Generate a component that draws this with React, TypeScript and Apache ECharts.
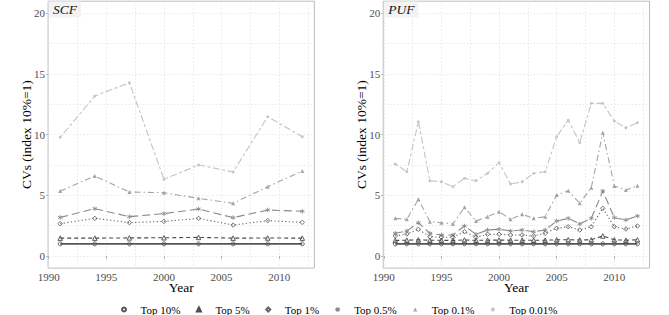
import React, { useEffect, useRef } from "react";
import * as echarts from "echarts";

const seriesNames = ["Top 10%", "Top 5%", "Top 1%", "Top 0.5%", "Top 0.1%", "Top 0.01%"];

const scfYears = [1991, 1994, 1997, 2000, 2003, 2006, 2009, 2012];
const scfTop10 = [1, 1, 1, 1, 1, 1, 1, 1];
const scfTop5 = [1.47, 1.47, 1.49, 1.5, 1.53, 1.47, 1.48, 1.47];
const scfTop1 = [2.66, 3.1, 2.75, 2.85, 3.1, 2.55, 2.91, 2.77];
const scfTop05 = [3.18, 3.9, 3.24, 3.49, 3.87, 3.16, 3.79, 3.68];
const scfTop01 = [5.35, 6.59, 5.27, 5.22, 4.75, 4.34, 5.71, 7.0];
const scfTop001 = [9.78, 13.18, 14.28, 6.32, 7.5, 6.92, 11.48, 9.83];

const pufYears = [1991, 1992, 1993, 1994, 1995, 1996, 1997, 1998, 1999, 2000, 2001, 2002, 2003, 2004, 2005, 2006, 2007, 2008, 2009, 2010, 2011, 2012];
const pufTop10 = [1, 1, 1, 1, 1, 1, 1, 1, 1, 1, 1, 1, 1, 1, 1, 1, 1, 1, 1, 1, 1, 1];
const pufTop5 = [1.28, 1.3, 1.33, 1.3, 1.29, 1.28, 1.32, 1.29, 1.3, 1.31, 1.3, 1.3, 1.29, 1.3, 1.33, 1.34, 1.32, 1.33, 1.65, 1.33, 1.3, 1.33];
const pufTop1 = [1.65, 1.81, 2.2, 1.59, 1.54, 1.54, 2.0, 1.54, 1.79, 1.79, 1.73, 1.73, 1.65, 1.87, 2.28, 2.41, 2.14, 2.41, 3.93, 2.41, 2.22, 2.47];
const pufTop05 = [1.87, 2.06, 2.74, 1.87, 1.73, 1.73, 2.47, 1.79, 2.14, 2.2, 2.06, 2.14, 2.0, 2.14, 2.88, 3.1, 2.64, 3.1, 5.35, 3.16, 2.97, 3.29];
const pufTop01 = [3.1, 3.02, 4.67, 2.83, 2.74, 2.64, 4.01, 2.88, 3.24, 3.65, 3.02, 3.43, 3.1, 3.24, 5.02, 5.38, 4.34, 5.63, 10.16, 5.77, 5.44, 5.79];
const pufTop001 = [7.58, 6.94, 11.06, 6.2, 6.12, 5.71, 6.4, 6.2, 6.81, 7.69, 5.93, 6.12, 6.81, 6.94, 9.83, 11.2, 9.34, 12.58, 12.58, 11.12, 10.57, 10.98];

const panelTitles = ["SCF", "PUF"];
const xMajorTicks = [1990, 1995, 2000, 2005, 2010];
const xMinorTicks = [1992.5, 1997.5, 2002.5, 2007.5, 2012.5];
const yMajorTicks = [0, 5, 10, 15, 20];
const yMinorTicks = [2.5, 7.5, 12.5, 17.5];

const FONT = "Liberation Serif";
const colors = ["#555555", "#4a4a4a", "#666666", "#8b8b8b", "#a4a4a4", "#c4c4c4"];
const lineTypes: any[] = ["solid", [4, 3], [1.2, 2.4], [8, 4], [6, 3, 1.5, 3], [3, 2.5, 7, 2.5]];
const lineWidths = [1.6, 1.1, 1.1, 1.1, 1.1, 1.1];
const asterisk = "path://M5,0L5,10M0.7,2.5L9.3,7.5M0.7,7.5L9.3,2.5";
const symbols = ["circle", "triangle", "diamond", asterisk, "triangle", "circle"];
const symbolSizes = [4, 4.5, 4.5, 4.5, 4, 2.8];
const hollow = [true, true, true, false, false, false];

export default function App() {
  const ref = useRef<HTMLDivElement>(null);
  useEffect(() => {
    const chart = echarts.init(ref.current!, null, { renderer: "svg" });

    const panels = [
      { years: scfYears, values: [scfTop10, scfTop5, scfTop1, scfTop05, scfTop01, scfTop001] },
      { years: pufYears, values: [pufTop10, pufTop5, pufTop1, pufTop05, pufTop01, pufTop001] },
    ];
    const gridLefts = [48.1, 383.2];
    const plotW = 266.3;
    const gridLine = { show: true, lineStyle: { color: "#e2e2e2", type: [1.5, 2], width: 0.8 } };
    const tickLabel = { fontFamily: FONT, fontSize: 11, color: "#4d4d4d", formatter: (v: number) => String(v) };
    const nameStyle = { fontFamily: FONT, fontSize: 13.5, color: "#000" };

    const grid: any[] = [];
    const xAxis: any[] = [];
    const yAxis: any[] = [];
    const series: any[] = [];
    const title: any[] = [];

    panels.forEach((panel, p) => {
      grid.push({
        left: gridLefts[p], top: 1.2, width: plotW, height: 266.9,
        show: true, borderColor: "#bdbdbd", borderWidth: 1, backgroundColor: "#fff",
      });
      xAxis.push({
        type: "value", gridIndex: p, min: 1989.95, max: 2013.05,
        axisLine: { show: false },
        axisTick: { show: true, length: 3, lineStyle: { color: "#b3b3b3" }, customValues: xMajorTicks },
        axisLabel: { ...tickLabel, margin: 3, customValues: xMajorTicks },
        splitLine: gridLine,
        name: "Year", nameLocation: "middle", nameGap: 12, nameMoveOverlap: false, nameTextStyle: nameStyle,
      });
      xAxis.push({
        type: "value", gridIndex: p, min: 1989.95, max: 2013.05, position: "bottom",
        axisLine: { show: false },
        axisTick: { show: false, customValues: xMinorTicks },
        axisLabel: { show: false, customValues: xMinorTicks },
        splitLine: gridLine,
      });
      yAxis.push({
        type: "value", gridIndex: p, min: -1, max: 21,
        axisLine: { show: false },
        axisTick: { show: true, length: 2, lineStyle: { color: "#b3b3b3" }, customValues: yMajorTicks },
        axisLabel: { ...tickLabel, margin: 3, customValues: yMajorTicks },
        splitLine: gridLine,
        name: "CVs (index 10%=1)", nameLocation: "middle", nameGap: 15, nameMoveOverlap: false, nameTextStyle: nameStyle,
      });
      yAxis.push({
        type: "value", gridIndex: p, min: -1, max: 21,
        axisLine: { show: false },
        axisTick: { show: false, customValues: yMinorTicks },
        axisLabel: { show: false, customValues: yMinorTicks },
        splitLine: gridLine,
      });
      title.push({
        text: panelTitles[p], left: gridLefts[p] + 1, top: 1.5,
        padding: [1, 4, 1, 4], backgroundColor: "#f3f3f3",
        textStyle: { fontFamily: FONT, fontStyle: "italic", fontWeight: "normal", fontSize: 13.5, color: "#111" },
      });
      panel.values.forEach((vals, i) => {
        series.push({
          type: "line", name: seriesNames[i], xAxisIndex: p * 2, yAxisIndex: p * 2,
          data: panel.years.map((y, k) => [y, vals[k]]),
          symbol: symbols[i], symbolSize: symbolSizes[i], showSymbol: true,
          color: colors[i],
          lineStyle: { color: colors[i], width: lineWidths[i], type: lineTypes[i] },
          itemStyle: hollow[i] || i === 3
            ? { color: i === 3 ? colors[i] : "rgba(255,255,255,0)", borderColor: colors[i], borderWidth: 0.9 }
            : { color: colors[i], borderWidth: 0 },
          z: 10 - i,
          silent: true,
        });
      });
    });

    chart.setOption({
      animation: false,
      title,
      grid,
      xAxis,
      yAxis,
      series,
      legend: {
        data: seriesNames, top: 299, left: "center", selectedMode: false,
        itemWidth: 23, itemHeight: 5, itemGap: 6,
        lineStyle: { opacity: 0 },
        textStyle: { fontFamily: FONT, fontSize: 11, color: "#000" },
      },
    });
    return () => chart.dispose();
  }, []);
  return <div ref={ref} style={{ position: "absolute", left: 0, top: 0, width: 669, height: 315 }} />;
}
